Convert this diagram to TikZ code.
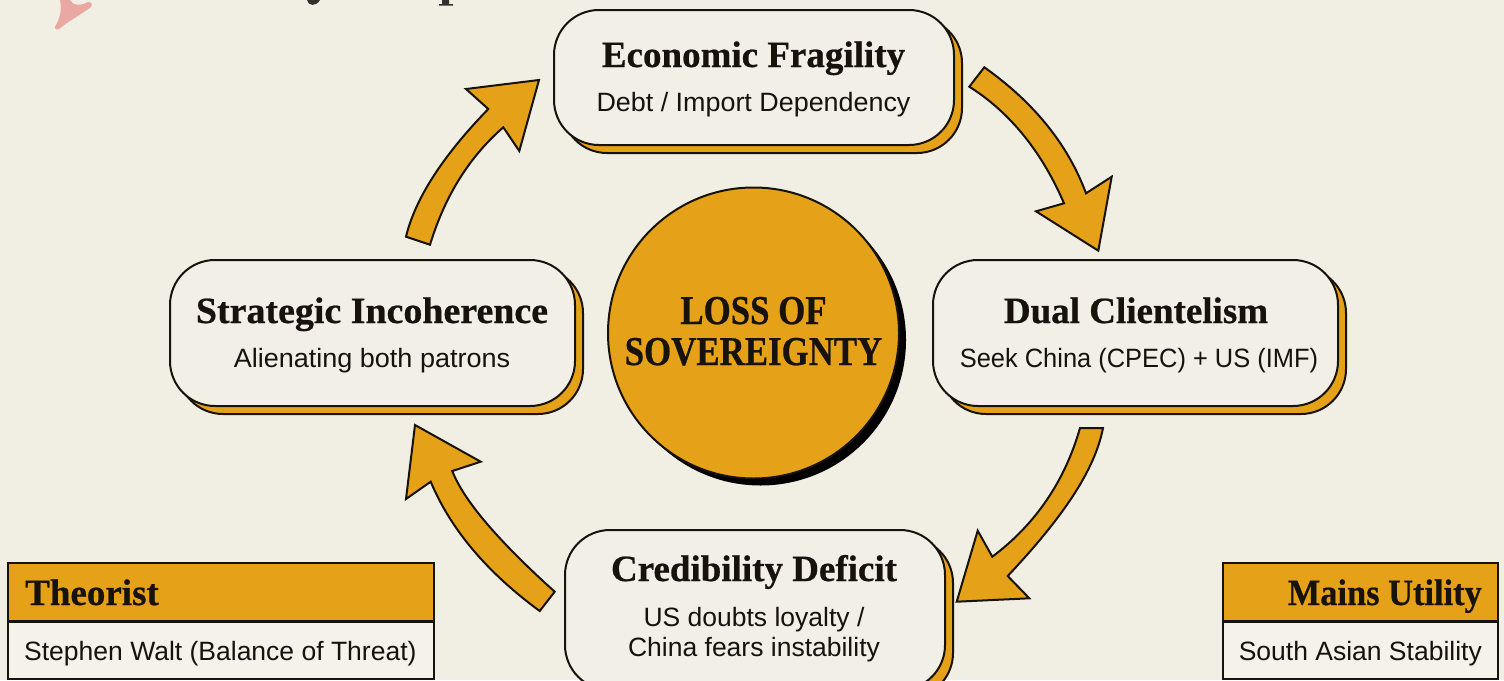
\documentclass[tikz,border=0pt]{standalone}
\usepackage{graphicx}
\usepackage{fontspec}
\setmainfont{Liberation Serif}[BoldFeatures={FakeBold=0.6}]
\setsansfont{Liberation Sans}
\usetikzlibrary{shadows,calc}
\definecolor{paper}{HTML}{F1EFE4}
\definecolor{cardfill}{HTML}{F2F0E6}
\definecolor{panel}{HTML}{F4F2E9}
\definecolor{amber}{HTML}{E5A118}
\definecolor{ink}{HTML}{17120C}
\definecolor{blush}{HTML}{EBA8A3}
\definecolor{fragment}{HTML}{33312E}
\tikzset{
  x=1pt,y=-1pt,
  card/.style={draw=ink,line width=2pt,fill=cardfill,rounded corners=45pt,
    copy shadow={shadow xshift=8pt,shadow yshift=-8pt,fill=amber,draw=ink,line width=2pt}},
  cardtitle/.style={font=\bfseries\fontsize{37}{40}\selectfont,text=ink,inner sep=0pt,anchor=base},
  cardsub/.style={font=\sffamily\fontsize{26.5}{30}\selectfont,text=ink,inner sep=0pt,anchor=base},
  corehead/.style={font=\bfseries\fontsize{41}{45}\selectfont,text=ink,inner sep=0pt,anchor=base},
  flowarrow/.style={draw=ink,line width=2pt,fill=amber,line join=miter},
  tablehead/.style={draw=ink,line width=2pt,fill=amber,inner sep=0pt},
  tablebody/.style={draw=ink,line width=2pt,fill=panel,inner sep=0pt},
}
\begin{document}
\begin{tikzpicture}
\useasboundingbox (0,0) rectangle (1504,680);
\clip (0,0) rectangle (1504,680);
\fill[paper] (0,0) rectangle (1504,680);

% fragments of the cropped header
\fill[blush,line join=round] (60,0) .. controls (62,10) and (60,18) .. (55,27)
  .. controls (55,30) and (57,30) .. (59,29)
  .. controls (70,20) and (82,14) .. (91,7)
  .. controls (93,4) and (91,2) .. (88,2)
  .. controls (80,6) and (73,6) .. (70,0) -- cycle;
\fill[fragment] (307,0) .. controls (308,6) and (316,7) .. (320,0) -- cycle;
\fill[fragment] (442,0) rectangle (449,4) (439,4) rectangle (453,5.5);

% core
\fill[black] (760.5,340) circle[radius=145.5];
\node[circle,draw=ink,line width=2pt,fill=amber,minimum size=291pt,inner sep=0pt] (core) at (753.5,333) {};
\node[corehead] (coreA) at (753.5,324) {\scalebox{.85}[1]{LOSS OF}};
\node[corehead] (coreB) at (753.5,365) {\scalebox{.85}[1]{SOVEREIGNTY}};

% cards
\node[card,minimum width=400pt,minimum height=135pt] (econ) at (754,77.5) {};
\node[cardtitle] (econT) at (753.5,67) {Economic Fragility};
\node[cardsub] (econS) at (753.5,111) {\scalebox{1.015}[1]{Debt / Import Dependency}};

\node[card,minimum width=405pt,minimum height=146pt] (dual) at (1135.5,333) {};
\node[cardtitle] (dualT) at (1136,323) {Dual Clientelism};
\node[cardsub] (dualS) at (1139,367) {\scalebox{.96}[1]{Seek China (CPEC) + US (IMF)}};

\node[card,minimum width=405pt,minimum height=146pt] (strat) at (372.5,333) {};
\node[cardtitle] (stratT) at (372,323) {\scalebox{1.025}[1]{Strategic Incoherence}};
\node[cardsub] (stratS) at (372,367) {\scalebox{1.02}[1]{Alienating both patrons}};

\node[card,minimum width=380pt,minimum height=160pt] (cred) at (755,610) {};
\node[cardtitle] (credT) at (754,581) {Credibility Deficit};
\node[cardsub] (credS1) at (754,626) {US doubts loyalty /};
\node[cardsub] (credS2) at (754,656) {China fears instability};

% cycle arrows
\coordinate (a1tailA) at ($(econ.east)+(29.3,-10.2)$);
\coordinate (a1tailB) at ($(econ.east)+(14.3,9.2)$);
\coordinate (a1tip) at ($(dual.north)+(-37.2,-8.3)$);
\draw[flowarrow] (a1tailA) .. controls (1033.6,102.2) and (1067.8,144.2) .. (1086,193.3)
  -- (1111.7,176.7) -- (a1tip) -- (1036,211.3) -- (1064,203.3)
  .. controls (1039.5,146.4) and (1005.6,109.6) .. (a1tailB) -- cycle;

\coordinate (a2tailA) at ($(dual.south)+(-32.5,21)$);
\coordinate (a2tailB) at ($(dual.south)+(-55.5,21)$);
\coordinate (a2tip) at ($(cred.north east)+(10.7,72.7)$);
\draw[flowarrow] (a2tailA) .. controls (1094.8,470.3) and (1062.9,517.3) .. (1007.7,576)
  -- (1029.3,598.3) -- (a2tip) -- (977.7,530.7) -- (992.3,556.7)
  .. controls (1035.6,524.2) and (1064.8,481.1) .. (a2tailB) -- cycle;

\coordinate (a3tailA) at ($(cred.west)+(-9.3,-18.3)$);
\coordinate (a3tailB) at ($(cred.west)+(-24.3,1)$);
\coordinate (a3tip) at ($(strat.south)+(42.5,18)$);
\draw[flowarrow] (a3tailB) .. controls (487.5,572.8) and (450.8,529.7) .. (430.7,481.7)
  -- (406,499) -- (a3tip) -- (480.7,461.7) -- (452.3,471)
  .. controls (463.7,500.5) and (498.2,540.8) .. (a3tailA) -- cycle;

\coordinate (a4tailA) at ($(strat.north)+(33.5,-22.3)$);
\coordinate (a4tailB) at ($(strat.north)+(57.5,-14.3)$);
\coordinate (a4tip) at ($(econ.west)+(-14,2.5)$);
\draw[flowarrow] (a4tailA) .. controls (415,199.2) and (442.3,156.3) .. (488.3,109)
  -- (466,89) -- (a4tip) -- (519.3,151) -- (503.3,127.3)
  .. controls (469.6,156.7) and (445.2,195.2) .. (a4tailB) -- cycle;

% side tables
\node[tablehead,minimum width=426pt,minimum height=58pt] (thHead) at (221,592) {};
\node[tablebody,minimum width=426pt,minimum height=57pt] (thBody) at (221,650) {};
\node[cardtitle,anchor=base west] (thT) at (25,605) {Theorist};
\node[cardsub,anchor=base west] (thS) at (24,660) {Stephen Walt (Balance of Threat)};

\node[tablehead,minimum width=275pt,minimum height=58pt] (muHead) at (1360.5,592) {};
\node[tablebody,minimum width=275pt,minimum height=57pt] (muBody) at (1360.5,650) {};
\node[cardtitle,anchor=base east] (muT) at (1482,605) {\scalebox{.93}[1]{Mains Utility}};
\node[cardsub,anchor=base east] (muS) at (1482,660) {South Asian Stability};
\end{tikzpicture}
\end{document}
